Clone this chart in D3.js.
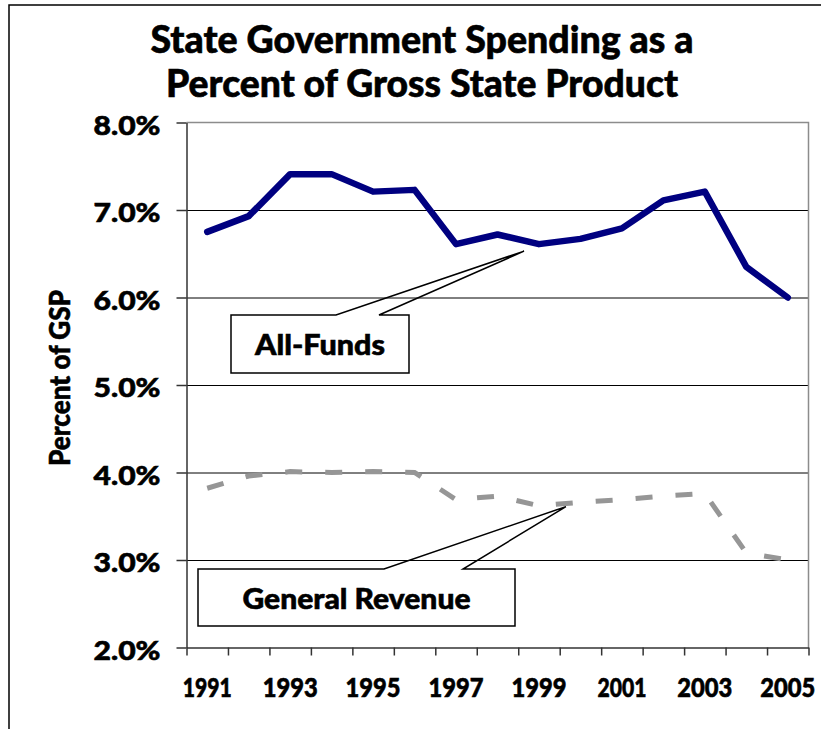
<!DOCTYPE html>
<html>
<head>
<meta charset="utf-8">
<script src="https://cdn.jsdelivr.net/npm/d3@7/dist/d3.min.js"></script>
<style>
  html, body { margin: 0; padding: 0; background: #fff; }
  svg { display: block; }
  text { font-family: Lato, "Open Sans", "DejaVu Sans", sans-serif; font-weight: 900; fill: #000;
         stroke: #000; stroke-width: 0.6px; }
</style>
</head>
<body>
<svg id="chart" width="821" height="729"></svg>
<script>
// ---- data ----
const years = [1991, 1992, 1993, 1994, 1995, 1996, 1997, 1998, 1999, 2000, 2001, 2002, 2003, 2004, 2005];
const allFunds = [6.75, 6.93, 7.41, 7.41, 7.21, 7.23, 6.61, 6.72, 6.61, 6.67, 6.79, 7.11, 7.21, 6.35, 6.00];
const generalRevenue = [3.82, 3.96, 4.01, 4.00, 4.01, 4.00, 3.69, 3.73, 3.62, 3.66, 3.69, 3.73, 3.76, 3.08, 3.00];
const yTicks = [2, 3, 4, 5, 6, 7, 8];
const gridTicks = [3, 4, 5, 6, 7];
const xLabelYears = [1991, 1993, 1995, 1997, 1999, 2001, 2003, 2005];
const titleLines = ["State Government Spending as a", "Percent of Gross State Product"];
const yAxisTitle = "Percent of GSP";
const calloutLabels = ["All-Funds", "General Revenue"];
const calloutTipYears = [1998.64, 1999.65];
const calloutTipValues = [6.53, 3.61];

// ---- layout ----
const svg = d3.select("#chart");
const plot = { left: 186.5, right: 808.5, top: 122.5, bottom: 647.5 };

const x = d3.scaleLinear()
  .domain([years[0] - 0.5, years[years.length - 1] + 0.5])
  .range([plot.left, plot.right]);
const y = d3.scaleLinear().domain([2, 8]).range([plot.bottom, plot.top]);

// outer chart frame (runs off the right and bottom edges)
svg.append("rect")
  .attr("x", 9).attr("y", 5).attr("width", 900).attr("height", 800)
  .attr("fill", "none").attr("stroke", "#000").attr("stroke-width", 1.5);

// title
svg.append("g").selectAll("text")
  .data(titleLines)
  .join("text")
  .attr("x", 422)
  .attr("y", (d, i) => 53 + i * 44)
  .attr("text-anchor", "middle")
  .attr("font-size", 38)
  .attr("textLength", (d, i) => i === 0 ? 543 : 512)
  .attr("lengthAdjust", "spacingAndGlyphs")
  .text(d => d);

// horizontal gridlines
const grid = svg.append("g")
  .attr("transform", `translate(${plot.left},0)`)
  .call(d3.axisLeft(y).tickValues(gridTicks).tickSize(-(plot.right - plot.left)).tickFormat(""));
grid.select(".domain").remove();
grid.selectAll(".tick line").attr("stroke", "#000").attr("stroke-width", 1);

// top and right edges of the plot area
svg.append("path")
  .attr("d", `M${plot.left},${plot.top}H${plot.right}V${plot.bottom}`)
  .attr("fill", "none").attr("stroke", "#8c8c8c").attr("stroke-width", 1.5);

// y axis
const yAxis = svg.append("g")
  .attr("transform", `translate(${plot.left},0)`)
  .call(d3.axisLeft(y).tickValues(yTicks).tickSize(10).tickSizeOuter(0).tickPadding(16)
    .tickFormat(d => d.toFixed(1) + "%"));
yAxis.selectAll("path, line").attr("stroke", "#333").attr("stroke-width", 1.5);
yAxis.selectAll("text")
  .attr("font-size", 27)
  .attr("dy", "0.43em")
  .attr("textLength", 67)
  .attr("lengthAdjust", "spacingAndGlyphs");

// x axis: tick marks between categories
const xAxis = svg.append("g")
  .attr("transform", `translate(0,${plot.bottom})`)
  .call(d3.axisBottom(x).tickValues(d3.range(years[0] - 0.5, years[years.length - 1] + 1, 1))
    .tickSize(8).tickSizeOuter(0).tickFormat(""));
xAxis.selectAll("path, line").attr("stroke", "#333").attr("stroke-width", 1.5);

// x labels centred on every other category
svg.append("g").selectAll("text")
  .data(xLabelYears)
  .join("text")
  .attr("x", d => x(d))
  .attr("y", plot.bottom + 49.5)
  .attr("text-anchor", "middle")
  .attr("font-size", 26)
  .attr("textLength", d => String(d).includes("1", 2) ? 49 : 55)
  .attr("lengthAdjust", "spacingAndGlyphs")
  .text(d => d);

// d3 axes set their own font attributes on the group; let the stylesheet win
svg.selectAll("g").attr("font-family", null).attr("font-size", null);

// y axis title
svg.append("text")
  .attr("transform", "translate(70,378) rotate(-90)")
  .attr("text-anchor", "middle")
  .attr("font-size", 28)
  .attr("textLength", 176)
  .attr("lengthAdjust", "spacingAndGlyphs")
  .text(yAxisTitle);

// series lines
const line = d3.line()
  .x((d, i) => x(years[i]))
  .y(d => y(d));

svg.append("path")
  .datum(generalRevenue)
  .attr("d", line)
  .attr("fill", "none")
  .attr("stroke", "#969696")
  .attr("stroke-width", 5)
  .attr("stroke-dasharray", "17 23");

svg.append("path")
  .datum(allFunds)
  .attr("d", line)
  .attr("fill", "none")
  .attr("stroke", "#000080")
  .attr("stroke-width", 6.5)
  .attr("stroke-linejoin", "round")
  .attr("stroke-linecap", "round");

// callout boxes with wedge pointers
const calloutBoxes = [
  { x0: 231, y0: 315, x1: 409, y1: 373, wedgeL: 336, wedgeR: 379, textW: 130, base: 355 },
  { x0: 198, y0: 569, x1: 515, y1: 626, wedgeL: 384, wedgeR: 463, textW: 228, base: 609 }
];

calloutLabels.forEach((label, i) => {
  const b = calloutBoxes[i];
  const tx = x(calloutTipYears[i]);
  const ty = y(calloutTipValues[i]);
  const g = svg.append("g");
  g.append("rect")
    .attr("x", b.x0).attr("y", b.y0)
    .attr("width", b.x1 - b.x0).attr("height", b.y1 - b.y0)
    .attr("fill", "#fff");
  g.append("path")
    .attr("d", `M${b.x0},${b.y0}H${b.wedgeL}L${tx},${ty}L${b.wedgeR},${b.y0}H${b.x1}V${b.y1}H${b.x0}Z`)
    .attr("fill", "none")
    .attr("stroke", "#000")
    .attr("stroke-width", 1.5)
    .attr("stroke-linejoin", "miter");
  g.append("text")
    .attr("x", (b.x0 + b.x1) / 2)
    .attr("y", b.base)
    .attr("text-anchor", "middle")
    .attr("font-size", 29)
    .attr("textLength", b.textW)
    .attr("lengthAdjust", "spacingAndGlyphs")
    .text(label);
});
</script>
</body>
</html>
